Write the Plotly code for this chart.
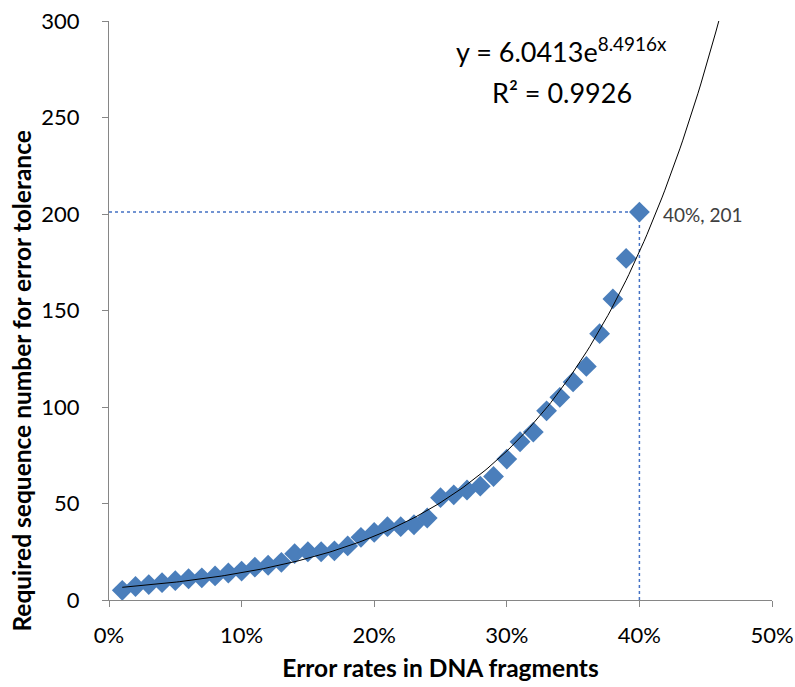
import numpy as np
import plotly.graph_objects as go

error_rates = [0.01, 0.02, 0.03, 0.04, 0.05, 0.06, 0.07, 0.08, 0.09, 0.10,
               0.11, 0.12, 0.13, 0.14, 0.15, 0.16, 0.17, 0.18, 0.19, 0.20,
               0.21, 0.22, 0.23, 0.24, 0.25, 0.26, 0.27, 0.28, 0.29, 0.30,
               0.31, 0.32, 0.33, 0.34, 0.35, 0.36, 0.37, 0.38, 0.39, 0.40]
seq_numbers = [5, 7, 8, 9, 10, 11, 11.5, 12.5, 14, 15,
               17, 18, 19.5, 24, 25, 25, 25.5, 28, 32.5, 35,
               38, 38, 39, 42.5, 53, 54.5, 57, 59, 64, 73,
               82, 87, 98, 105, 113, 121, 138, 156, 177, 201]

fit_a = 6.0413
fit_b = 8.4916
fit_x_start = 0.01
highlight_x = 0.40
highlight_y = 201

x_ticks = [0, 0.1, 0.2, 0.3, 0.4, 0.5]
x_tick_labels = ["0%", "10%", "20%", "30%", "40%", "50%"]
y_ticks = [0, 50, 100, 150, 200, 250, 300]

fit_x_end = np.log(300 / fit_a) / fit_b
fx = np.linspace(fit_x_start, fit_x_end, 200)
fy = fit_a * np.exp(fit_b * fx)

FONT = "Lato, 'Open Sans', sans-serif"
fig = go.Figure()

fig.add_trace(go.Scatter(x=[0, highlight_x], y=[highlight_y, highlight_y], mode="lines",
                         line=dict(color="#4472C4", width=1.5, dash="dot"), hoverinfo="skip"))
fig.add_trace(go.Scatter(x=[highlight_x, highlight_x], y=[0, highlight_y], mode="lines",
                         line=dict(color="#4472C4", width=1.5, dash="dot"), hoverinfo="skip"))
fig.add_trace(go.Scatter(x=error_rates, y=seq_numbers, mode="markers",
                         marker=dict(symbol="diamond", size=16, color="#4A7EBB",
                                     line=dict(width=0))))
fig.add_trace(go.Scatter(x=fx, y=fy, mode="lines", line=dict(color="black", width=1)))

fig.add_annotation(x=highlight_x, y=highlight_y, text="40%, 201", showarrow=False,
                   xanchor="left", yanchor="middle", xshift=22, yshift=-2,
                   font=dict(family=FONT, size=19, color="#404040"))
fig.add_annotation(x=0.3415, y=285, text="y = 6.0413e<sup>8.4916x</sup>", showarrow=False,
                   xanchor="center", yanchor="middle", font=dict(family=FONT, size=27, color="black"))
fig.add_annotation(x=0.3415, y=263, text="R² = 0.9926", showarrow=False,
                   xanchor="center", yanchor="middle", font=dict(family=FONT, size=27, color="black"))
fig.add_annotation(xref="paper", yref="paper", x=-0.132, y=0.378,
                   text="<b>Required sequence number for error tolerance</b>", textangle=-90,
                   showarrow=False, xanchor="center", yanchor="middle",
                   font=dict(family=FONT, size=24.5, color="black"))

fig.update_layout(
    width=795, height=687,
    margin=dict(l=109, r=23, t=21, b=87),
    paper_bgcolor="white", plot_bgcolor="white",
    showlegend=False,
    font=dict(family=FONT, size=22, color="black"),
)
fig.update_xaxes(range=[0, 0.5], tickvals=x_ticks, ticktext=x_tick_labels, automargin=False,
                 showgrid=False, zeroline=False, showline=True, linecolor="#868686", linewidth=1,
                 ticks="outside", ticklen=6, tickcolor="#868686", ticklabelstandoff=10,
                 tickfont=dict(family=FONT, size=22, color="black"),
                 title=dict(text="<b>Error rates in DNA fragments</b>", font=dict(family=FONT, size=24.5), standoff=12))
fig.update_yaxes(range=[0, 300], tickvals=y_ticks, automargin=False,
                 showgrid=False, zeroline=False, showline=True, linecolor="#868686", linewidth=1,
                 ticks="outside", ticklen=6, tickcolor="#868686", ticklabelstandoff=18,
                 tickfont=dict(family=FONT, size=22, color="black"))

fig.write_html("out.html")
